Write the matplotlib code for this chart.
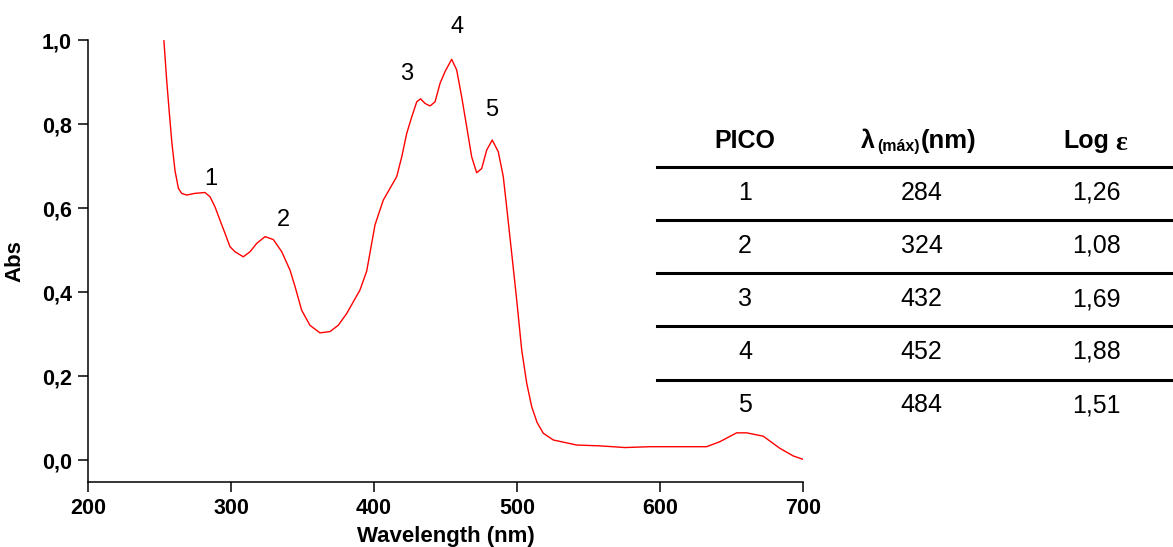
import matplotlib
matplotlib.use("Agg")
import matplotlib.pyplot as plt
from matplotlib.lines import Line2D

plt.rcParams['font.family'] = ['Liberation Sans', 'DejaVu Sans']

# Spectrum data (wavelength nm, absorbance)
wavelength = [253.1, 255.0, 256.9, 258.7, 260.8, 263.2, 265.5, 269.0, 274.8, 281.8,
              285.3, 288.8, 292.3, 295.8, 299.3, 302.8, 308.6, 313.3, 318.0, 323.8,
              329.6, 335.5, 341.3, 344.8, 349.4, 355.2, 362.2, 369.2, 375.0, 380.9,
              390.2, 394.9, 400.7, 406.5, 411.2, 415.9, 419.4, 422.9, 426.4, 429.9,
              432.6, 435.7, 439.2, 442.7, 446.2, 449.7, 454.3, 457.8, 461.3, 464.8,
              468.3, 471.8, 475.3, 478.8, 482.7, 486.9, 490.4, 493.5, 496.3, 499.8,
              503.3, 506.8, 510.3, 514.0, 518.4, 525.4, 541.7, 558.0, 575.5, 593.0,
              632.6, 641.9, 653.6, 660.6, 672.2, 683.9, 693.2, 700.0]
absorbance = [0.998, 0.905, 0.825, 0.754, 0.690, 0.647, 0.635, 0.631, 0.635, 0.637,
              0.627, 0.603, 0.571, 0.540, 0.508, 0.496, 0.484, 0.496, 0.516, 0.532,
              0.525, 0.496, 0.452, 0.413, 0.357, 0.321, 0.303, 0.306, 0.321, 0.349,
              0.405, 0.450, 0.560, 0.619, 0.647, 0.675, 0.722, 0.778, 0.817, 0.853,
              0.860, 0.849, 0.843, 0.853, 0.897, 0.925, 0.954, 0.929, 0.865, 0.794,
              0.722, 0.684, 0.694, 0.738, 0.762, 0.734, 0.675, 0.580, 0.492, 0.381,
              0.262, 0.183, 0.127, 0.090, 0.064, 0.048, 0.036, 0.034, 0.030, 0.032,
              0.032, 0.044, 0.065, 0.065, 0.057, 0.028, 0.010, 0.002]

# Peak labels on the curve
peak_labels = ['1', '2', '3', '4', '5']
peak_label_x = [286, 337, 422.5, 458, 482.5]
peak_label_y = [0.67, 0.571, 0.92, 1.03, 0.833]

# Table data
pico = ['1', '2', '3', '4', '5']
lambda_max = ['284', '324', '432', '452', '484']
log_eps = ['1,26', '1,08', '1,69', '1,88', '1,51']

x_ticks = [200, 300, 400, 500, 600, 700]
y_ticks = [0.0, 0.2, 0.4, 0.6, 0.8, 1.0]

W, H = 1173, 547
fig = plt.figure(figsize=(W / 100, H / 100), dpi=100)
ax = fig.add_axes([88 / W, 1 - 482 / H, (803 - 88) / W, (482 - 40) / H])

ax.plot(wavelength, absorbance, color='#ff0000', lw=1.0)
ax.set_xlim(200, 700)
ax.set_ylim(-0.052, 1.0)
ax.set_xticks(x_ticks)
ax.set_xticklabels([str(t) for t in x_ticks])
ax.set_yticks(y_ticks)
ax.set_yticklabels([f"{t:.1f}".replace('.', ',') for t in y_ticks])
for s in ['top', 'right']:
    ax.spines[s].set_visible(False)
for s in ['left', 'bottom']:
    ax.spines[s].set_linewidth(1.1)
ax.tick_params(direction='out', length=7.5, width=1.1, labelsize=15.5, pad=4)
for lab in ax.get_xticklabels() + ax.get_yticklabels():
    lab.set_fontweight('bold')
ax.set_xlabel('Wavelength (nm)', fontsize=16, fontweight='bold', labelpad=5)
ax.set_ylabel('Abs', fontsize=16, fontweight='bold', labelpad=12)

for t, x, y in zip(peak_labels, peak_label_x, peak_label_y):
    ax.text(x, y, t, fontsize=17, ha='center', va='center')

# Table drawn in figure pixel coordinates
def fx(px):
    return px / W

def fy(py):
    return 1 - py / H

col_x = [745, 921.5, 1096.5]
header_y = 141
row_y = [193, 246, 299, 352, 405]
line_y = [167, 220, 273, 326, 380]

for ly in line_y:
    fig.add_artist(Line2D([fx(657), fx(1173)], [fy(ly), fy(ly)], color='black', lw=2.2))

fig.text(fx(col_x[0]), fy(header_y), 'PICO', fontsize=18, fontweight='bold',
         ha='center', va='center')
# lambda header built of pieces
fig.text(fx(861), fy(header_y), 'λ', fontsize=18, fontweight='bold', ha='left', va='center')
fig.text(fx(877), fy(header_y + 6), '(máx)', fontsize=11.5, fontweight='bold',
         ha='left', va='center')
fig.text(fx(921), fy(header_y), '(nm)', fontsize=18.5, fontweight='bold', ha='left', va='center')
fig.text(fx(1063), fy(header_y), 'Log', fontsize=18, fontweight='bold', ha='left', va='center')
fig.text(fx(1115), fy(header_y + 2), 'ε', fontsize=20, fontweight='bold',
         family='Liberation Serif', ha='left', va='center')

for i in range(len(pico)):
    for cx, val in zip(col_x, [pico[i], lambda_max[i], log_eps[i]]):
        fig.text(fx(cx), fy(row_y[i]), val, fontsize=18, ha='center', va='center')

fig.savefig('out.png', dpi=100)
